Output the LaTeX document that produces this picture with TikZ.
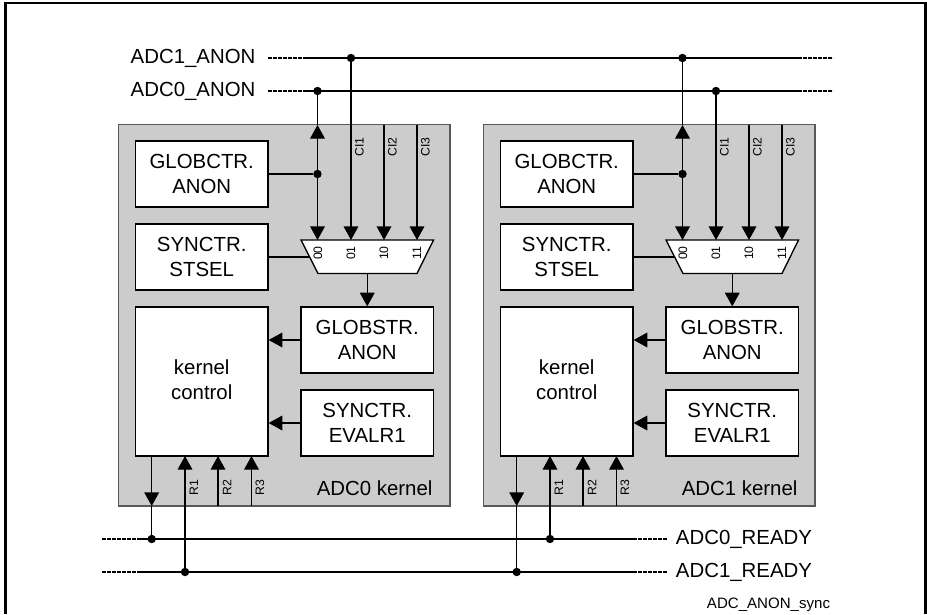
\documentclass[tikz,border=0pt]{standalone}
\usepackage{fontspec}
\setmainfont{Liberation Sans}
\usetikzlibrary{arrows.meta}
\definecolor{kgray}{HTML}{CCCCCC}
\tikzset{
  bigfont/.style={font=\fontsize{15.3}{18.75}\selectfont},
  smallrot/.style={font=\fontsize{9.2}{11}\selectfont,rotate=90,inner sep=0pt},
  kernelbox/.style={draw=black!65,line width=0.8pt,fill=kgray,inner sep=0pt,minimum width=331.5*0.75pt,minimum height=381.5*0.75pt},
  regbox/.style={draw=black,line width=1pt,fill=white,inner sep=0pt,align=center,bigfont,minimum width=132.5*0.75pt,minimum height=66*0.75pt},
  ctrlbox/.style={regbox,minimum height=149*0.75pt},
  muxbox/.style={draw=black,line width=1pt,fill=white},
  sig/.style={draw=black,line width=0.9pt},
  arr/.style={sig,-{Triangle[length=10.2pt,width=11pt]}},
  busdash/.style={draw=black,line width=1.7pt,dash pattern=on 2.9pt off 0.85pt},
  jdot/.style={circle,fill=black,inner sep=0pt,minimum size=6.3pt},
  lbl/.style={bigfont,inner sep=0pt},
}
\newcommand{\kernelblock}[3]{%
\begin{scope}[shift={(#2,0)},name prefix=#1-]
  \node[kernelbox] (kb) at (284.25,315.25) {};
  \node[lbl,anchor=east] (kname) at (432.7,488) {#3};
  \node[regbox] (gc) at (201.75,174) {GLOBCTR.\\ANON};
  \node[regbox] (st) at (201.75,257) {SYNCTR.\\STSEL};
  \node[ctrlbox] (kc) at (201.75,381.5) {kernel\\control\rule[-2.4pt]{0pt}{1pt}};
  \node[regbox] (gs) at (367.25,340) {GLOBSTR.\\ANON};
  \node[regbox] (ev) at (367.25,423) {SYNCTR.\\EVALR1};
  \draw[muxbox] (301,240) -- (433.5,240) -- (417,273.5) -- (318,273.5) -- cycle;
  \coordinate (mo) at (367.25,273.5);
  \coordinate (ms) at (309,257);
  \coordinate (m0) at (317.5,240);
  \coordinate (m1) at (351,240);
  \coordinate (m2) at (384,240);
  \coordinate (m3) at (417,240);
  \coordinate (t0) at (317.5,125);
  \coordinate (t2) at (384,124.5);
  \coordinate (t3) at (417,124.5);
  \coordinate (kout) at (151.7,456);
  \coordinate (kbot) at (151.7,506);
  \coordinate (r1) at (185,456);
  \coordinate (r2) at (218,456);
  \coordinate (r3) at (251.5,456);
  \coordinate (b2) at (218,506);
  \coordinate (b3) at (251.5,506);
  \node[jdot] (jg) at (317.5,174) {};
  \draw[sig] (gc.east) -- (jg);
  \draw[arr] (jg) -- (t0);
  \draw[arr] (jg) -- (m0);
  \draw[arr] (t2) -- (m2);
  \draw[arr] (t3) -- (m3);
  \draw[sig] (st.east) -- (ms);
  \draw[arr] (mo) -- (gs.north -| mo);
  \draw[arr] (gs.west) -- (gs.west -| kc.east);
  \draw[arr] (ev.west) -- (ev.west -| kc.east);
  \draw[arr] (kout) -- (kbot);
  \draw[arr] (b2) -- (r2);
  \draw[arr] (b3) -- (r3);
  \node[smallrot] (l1) at (359.5,147) {CI1};
  \node[smallrot] (l2) at (392.5,147) {CI2};
  \node[smallrot] (l3) at (425.5,147) {CI3};
  \node[smallrot] (x0) at (318,253) {00};
  \node[smallrot] (x1) at (351,253) {01};
  \node[smallrot] (x2) at (384,253) {10};
  \node[smallrot] (x3) at (417,253) {11};
  \node[smallrot] (q1) at (194,488) {R1};
  \node[smallrot] (q2) at (227,488) {R2};
  \node[smallrot] (q3) at (260,488) {R3};
\end{scope}}
\begin{document}
\begin{tikzpicture}[x=0.75pt,y=-0.75pt]
\useasboundingbox (0,0) rectangle (927,614);
\coordinate (f1) at (5.5,614);
\coordinate (f2) at (5.5,3);
\coordinate (f3) at (925.5,3);
\coordinate (f4) at (925.5,614);
\draw[black,line width=1.6pt] (f1) -- (f2) -- (f3) -- (f4);
\kernelblock{a}{0}{ADC0 kernel}
\kernelblock{b}{365}{ADC1 kernel}
% top buses
\node[lbl,anchor=east] (adc1) at (255.7,58) {ADC1\_ANON};
\node[lbl,anchor=east] (adc0) at (255.7,91) {ADC0\_ANON};
\coordinate (s1a) at (268,58);
\coordinate (s1b) at (303,58);
\coordinate (s1c) at (798,58);
\coordinate (s1d) at (833,58);
\coordinate (s0a) at (268,91);
\coordinate (s0b) at (303,91);
\coordinate (s0c) at (798,91);
\coordinate (s0d) at (833,91);
\draw[busdash] (s1a) -- (s1b);
\draw[busdash] (s0a) -- (s0b);
\draw[busdash] (s1c) -- (s1d);
\draw[busdash] (s0c) -- (s0d);
\draw[sig] (s1b) -- (s1c);
\draw[sig] (s0b) -- (s0c);
\node[jdot] (ja1) at (351,58) {};
\node[jdot] (ja0) at (317.5,91) {};
\node[jdot] (jb1) at (682.5,58) {};
\node[jdot] (jb0) at (716,91) {};
\draw[sig] (ja0) -- (a-t0);
\draw[arr] (ja1) -- (a-m1);
\draw[sig] (jb1) -- (b-t0);
\draw[arr] (jb0) -- (b-m1);
% bottom buses
\node[lbl,anchor=west] (rdy0) at (675.7,539) {ADC0\_READY};
\node[lbl,anchor=west] (rdy1) at (675.7,572) {ADC1\_READY};
\coordinate (r0a) at (102,539);
\coordinate (r0b) at (137,539);
\coordinate (r0c) at (633,539);
\coordinate (r0d) at (667,539);
\coordinate (r1a) at (102,572);
\coordinate (r1b) at (137,572);
\coordinate (r1c) at (633,572);
\coordinate (r1d) at (667,572);
\draw[busdash] (r0a) -- (r0b);
\draw[busdash] (r1a) -- (r1b);
\draw[busdash] (r0c) -- (r0d);
\draw[busdash] (r1c) -- (r1d);
\draw[sig] (r0b) -- (r0c);
\draw[sig] (r1b) -- (r1c);
\node[jdot] (ka0) at (151.7,539) {};
\node[jdot] (ka1) at (185,572) {};
\node[jdot] (kb0) at (550,539) {};
\node[jdot] (kb1) at (516.7,572) {};
\draw[sig] (a-kbot) -- (ka0);
\draw[arr] (ka1) -- (a-r1);
\draw[arr] (kb0) -- (b-r1);
\draw[sig] (b-kbot) -- (kb1);
\node[font=\fontsize{11.3}{13}\selectfont,inner sep=0pt,anchor=west] (fig) at (706.7,605) {ADC\_ANON\_sync};
\end{tikzpicture}
\end{document}
